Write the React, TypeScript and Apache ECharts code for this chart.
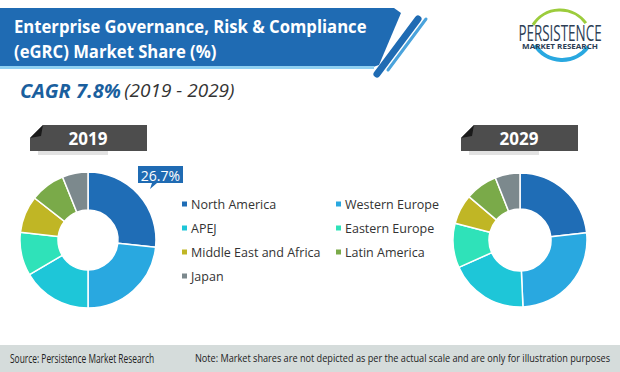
import React, { useEffect, useRef } from "react";
import * as echarts from "echarts";

const regions = [
  "North America",
  "Western Europe",
  "APEJ",
  "Eastern Europe",
  "Middle East and Africa",
  "Latin America",
  "Japan",
];
const share2019 = [26.7, 23.3, 16.5, 10.3, 8.8, 8.3, 6.1];
const share2029 = [23.3, 26.0, 19.0, 10.7, 7.2, 7.8, 6.0];
const colors = ["#1f6db6", "#29a8e0", "#1ec6d8", "#2fe2b9", "#c0b625", "#7aaa49", "#7c898d"];
const legendLeft = ["North America", "APEJ", "Middle East and Africa", "Japan"];
const legendRight = ["Western Europe", "Eastern Europe", "Latin America"];
const years = ["2019", "2029"];
const highlightLabel = "26.7%";

function yearBox(x: number, label: string) {
  return {
    type: "group",
    children: [
      { type: "rect", shape: { x: x + 8, y: 151, width: 70, height: 4 }, style: { fill: "#e2e2e2" } },
      {
        type: "polygon",
        shape: { points: [[x + 13, 125], [x + 117, 125], [x + 117, 151], [x, 151], [x, 138]] },
        style: { fill: "#4d4d4d" },
      },
      { type: "polygon", shape: { points: [[x, 138], [x + 13, 125], [x + 11, 136]] }, style: { fill: "#1a1a1a" } },
      {
        type: "text",
        style: {
          text: label,
          x: x + 58,
          y: 138,
          align: "center",
          verticalAlign: "middle",
          fill: "#ffffff",
          font: "bold 17px 'Open Sans'",
        },
      },
    ],
  };
}

export default function App() {
  const ref = useRef<HTMLDivElement>(null);
  useEffect(() => {
    if (!ref.current) return;
    const chart = echarts.init(ref.current, null, { renderer: "svg" });
    const mk = (vals: number[]) => regions.map((n, i) => ({ name: n, value: vals[i] }));
    const pieBase = {
      type: "pie",
      startAngle: 90,
      clockwise: true,
      label: { show: false },
      labelLine: { show: false },
      emphasis: { disabled: true },
      itemStyle: { borderColor: "#ffffff", borderWidth: 1.5 },
    };
    const legendCommon = {
      orient: "vertical",
      icon: "rect",
      itemWidth: 7,
      itemHeight: 7,
      itemGap: 10,
      selectedMode: false,
      textStyle: { fontFamily: "Open Sans", fontSize: 12.5, color: "#333333", lineHeight: 14, padding: [0, 0, 0, -2] },
    };
    chart.setOption({
      animation: false,
      backgroundColor: "#ffffff",
      color: colors,
      legend: [
        { ...legendCommon, data: legendLeft, left: 175, top: 192 },
        { ...legendCommon, data: legendRight, left: 329, top: 192 },
      ],
      series: [
        { ...pieBase, name: years[0], center: [88, 240], radius: [30, 68], data: mk(share2019) },
        { ...pieBase, name: years[1], center: [520, 240], radius: [31, 67], data: mk(share2029) },
      ],
      graphic: [
        // header banner
        {
          type: "polygon",
          shape: { points: [[0, 8], [394, 8], [401, 13], [379, 65], [373, 67], [0, 67]] },
          style: { fill: "#1f6bb3" },
        },
        { type: "rect", shape: { x: 0, y: 66, width: 374, height: 3 }, style: { fill: "#8fd0f2" } },
        {
          type: "line",
          shape: { x1: 418, y1: 19, x2: 377, y2: 74 },
          style: { stroke: "#1f6bb3", lineWidth: 7, lineCap: "round" },
        },
        {
          type: "line",
          shape: { x1: 426, y1: 19, x2: 388, y2: 70 },
          style: { stroke: "#4aa3dc", lineWidth: 3, lineCap: "round" },
        },
        {
          type: "text",
          x: 14,
          y: 26,
          scaleX: 0.98,
          style: {
            text: "Enterprise Governance, Risk & Compliance",
            x: 0,
            y: 0,
            verticalAlign: "middle",
            fill: "#ffffff",
            font: "bold 17px 'Open Sans'",
          },
        },
        {
          type: "text",
          x: 14,
          y: 51,
          scaleX: 0.98,
          style: {
            text: "(eGRC) Market Share (%)",
            x: 0,
            y: 0,
            verticalAlign: "middle",
            fill: "#ffffff",
            font: "bold 17px 'Open Sans'",
          },
        },
        // logo
        {
          type: "arc",
          shape: { cx: 560, cy: 42, r: 32, startAngle: Math.PI * 1.18, endAngle: Math.PI * 1.8 },
          style: { stroke: "#9ccc3c", lineWidth: 3, fill: "none" },
        },
        {
          type: "arc",
          shape: { cx: 562, cy: 28, r: 32, startAngle: Math.PI * 0.2, endAngle: Math.PI * 0.82 },
          style: { stroke: "#29a8e0", lineWidth: 4, fill: "none" },
        },
        {
          type: "text",
          x: 560,
          y: 33,
          scaleX: 0.64,
          style: {
            text: "PERSISTENCE",
            x: 0,
            y: 0,
            align: "center",
            verticalAlign: "middle",
            fill: "#2c3e55",
            font: "21px 'Open Sans'",
          },
        },
        {
          type: "text",
          x: 560,
          y: 46,
          scaleX: 1.15,
          style: {
            text: "MARKET RESEARCH",
            x: 0,
            y: 0,
            align: "center",
            verticalAlign: "middle",
            fill: "#2c3e55",
            font: "bold 7px 'Open Sans'",
          },
        },
        // CAGR
        {
          type: "text",
          style: {
            text: "{a|CAGR 7.8%} {b|(2019 - 2029)}",
            x: 20,
            y: 90,
            verticalAlign: "middle",
            rich: {
              a: { fill: "#1a5f9e", font: "italic bold 20px 'Open Sans'" },
              b: { fill: "#333333", font: "italic 19px 'Open Sans'" },
            },
          },
        },
        yearBox(30, years[0]),
        yearBox(461, years[1]),
        // callout
        {
          type: "polygon",
          shape: { points: [[138, 166], [183, 166], [183, 183], [157, 183], [150, 189], [152, 183], [138, 183]] },
          style: { fill: "#1f6bb3" },
        },
        {
          type: "text",
          style: {
            text: highlightLabel,
            x: 160.5,
            y: 175,
            align: "center",
            verticalAlign: "middle",
            fill: "#ffffff",
            font: "14px 'Open Sans'",
          },
        },
        // footer
        { type: "rect", shape: { x: 0, y: 345, width: 620, height: 27 }, style: { fill: "#d5dcdb" } },
        {
          type: "text",
          x: 10,
          y: 358,
          scaleX: 0.7,
          style: {
            text: "Source: Persistence Market Research",
            x: 0,
            y: 0,
            verticalAlign: "middle",
            fill: "#222222",
            font: "12px 'Open Sans'",
          },
        },
        {
          type: "text",
          x: 195,
          y: 358,
          scaleX: 0.87,
          style: {
            text: "Note: Market shares are not depicted as per the actual scale and are only for illustration purposes",
            x: 0,
            y: 0,
            verticalAlign: "middle",
            fill: "#222222",
            font: "10.5px 'Open Sans'",
          },
        },
      ],
    });
    return () => chart.dispose();
  }, []);
  return (
    <div
      ref={ref}
      style={{ position: "absolute", left: 0, top: 0, width: 620, height: 372 }}
    />
  );
}
